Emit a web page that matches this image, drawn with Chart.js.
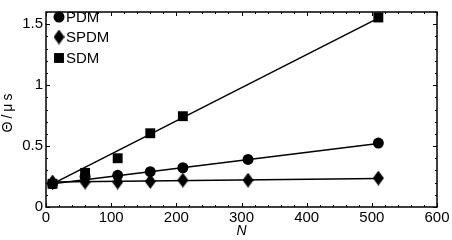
<!DOCTYPE html>
<html>
<head>
<meta charset="utf-8">
<script src="https://cdn.jsdelivr.net/npm/chart.js@4/dist/chart.umd.min.js"></script>
<style>
  html, body { margin: 0; padding: 0; background: #fff; }
  #wrap { width: 452px; height: 240px; }
</style>
</head>
<body>
<div id="wrap"><canvas id="chart" width="452" height="240"></canvas></div>
<script>
// Datos
const nValues = [10, 60, 110, 160, 210, 310, 510];
const pdmValues = [0.19, 0.25, 0.26, 0.29, 0.322, 0.39, 0.525];
const spdmValues = [0.205, 0.205, 0.205, 0.21, 0.22, 0.22, 0.237];
const sdmN = [10, 60, 110, 160, 210, 510];
const sdmValues = [0.19, 0.28, 0.40, 0.605, 0.745, 1.555];

// Rectas de ajuste (extremos)
const fitN = [10, 510];
const pdmFit = [0.19, 0.522];
const spdmFit = [0.205, 0.233];
const sdmFit = [0.19, 1.55];

const legendLabels = ['PDM', 'SPDM', 'SDM'];
const xTicks = [0, 100, 200, 300, 400, 500, 600];
const yTicks = [0, 0.5, 1, 1.5];
const yTitle = 'Θ/μs';

const FONT = '"Liberation Sans", Arial, sans-serif';

function toPoints(xs, ys) {
    return xs.map((x, i) => ({ x: x, y: ys[i] }));
}

// Marcador de rombo
function makeDiamond(w, h) {
    const c = document.createElement('canvas');
    c.width = w;
    c.height = h;
    const g = c.getContext('2d');
    g.fillStyle = '#000';
    g.beginPath();
    g.moveTo(w / 2, 0);
    g.lineTo(w, h / 2);
    g.lineTo(w / 2, h);
    g.lineTo(0, h / 2);
    g.closePath();
    g.fill();
    return c;
}
const diamond = makeDiamond(11, 15);

function fitLine(xs, ys) {
    return {
        data: toPoints(xs, ys),
        showLine: true,
        borderColor: '#000',
        borderWidth: 1.5,
        pointRadius: 0,
        order: 2
    };
}

function marks(xs, ys, style, radius) {
    return {
        data: toPoints(xs, ys),
        showLine: false,
        pointStyle: style,
        pointRadius: radius,
        pointHoverRadius: radius,
        backgroundColor: '#000',
        borderColor: '#000',
        borderWidth: 0,
        order: 1
    };
}

// Marco y marcas hacia adentro en los cuatro lados
const inwardTicks = {
    id: 'inwardTicks',
    afterDraw(chart) {
        const ctx = chart.ctx;
        const a = chart.chartArea;
        const xs = chart.scales.x;
        const ys = chart.scales.y;
        ctx.save();
        ctx.strokeStyle = '#000';
        ctx.lineWidth = 1.5;
        ctx.strokeRect(a.left, a.top, a.right - a.left, a.bottom - a.top);
        ctx.lineWidth = 1;
        for (let v = 0; v <= 600; v += 20) {
            const len = v % 100 === 0 ? 4 : 2;
            const px = Math.round(xs.getPixelForValue(v)) + 0.5;
            ctx.beginPath();
            ctx.moveTo(px, a.bottom); ctx.lineTo(px, a.bottom - len);
            ctx.moveTo(px, a.top); ctx.lineTo(px, a.top + len);
            ctx.stroke();
        }
        for (let i = 0; i <= 16; i++) {
            const v = i / 10;
            const len = i % 5 === 0 ? 4 : 2;
            const py = Math.round(ys.getPixelForValue(v)) + 0.5;
            ctx.beginPath();
            ctx.moveTo(a.left, py); ctx.lineTo(a.left + len, py);
            ctx.moveTo(a.right, py); ctx.lineTo(a.right - len, py);
            ctx.stroke();
        }
        ctx.restore();
    }
};

// Título del eje Y (con espaciado entre letras)
const yTitlePlugin = {
    id: 'yTitlePlugin',
    afterDraw(chart) {
        const ctx = chart.ctx;
        const a = chart.chartArea;
        ctx.save();
        ctx.fillStyle = '#000';
        ctx.font = '14px ' + FONT;
        ctx.letterSpacing = '3px';
        ctx.textAlign = 'center';
        ctx.textBaseline = 'middle';
        ctx.translate(8, (a.top + a.bottom) / 2 + 2);
        ctx.rotate(-Math.PI / 2);
        ctx.fillText(yTitle, 0, 0);
        ctx.restore();
    }
};

// Leyenda dentro del área
const innerLegend = {
    id: 'innerLegend',
    afterDraw(chart) {
        const ctx = chart.ctx;
        const styles = [
            { pointStyle: 'circle', radius: 5.5 },
            { pointStyle: diamond, radius: 6 },
            { pointStyle: 'rect', radius: 7 }
        ];
        const rowsY = [17, 37, 58];
        ctx.save();
        ctx.fillStyle = '#000';
        ctx.strokeStyle = '#000';
        ctx.font = '15px ' + FONT;
        ctx.textBaseline = 'middle';
        legendLabels.forEach((label, i) => {
            Chart.helpers.drawPoint(ctx, {
                pointStyle: styles[i].pointStyle,
                radius: styles[i].radius,
                rotation: 0,
                borderWidth: 0
            }, 59, rowsY[i]);
            ctx.fillText(label, 66, rowsY[i] + 1);
        });
        ctx.restore();
    }
};

new Chart(document.getElementById('chart'), {
    type: 'scatter',
    data: {
        datasets: [
            fitLine(fitN, pdmFit),
            fitLine(fitN, spdmFit),
            fitLine(fitN, sdmFit),
            marks(nValues, pdmValues, 'circle', 5.5),
            marks(nValues, spdmValues, diamond, 6),
            marks(sdmN, sdmValues, 'rect', 7)
        ]
    },
    options: {
        responsive: false,
        animation: false,
        events: [],
        layout: { padding: { top: 1, right: 15, left: 0, bottom: 0 } },
        plugins: { legend: { display: false }, tooltip: { enabled: false } },
        scales: {
            x: {
                type: 'linear',
                min: 0,
                max: 600,
                afterBuildTicks: s => { s.ticks = xTicks.map(v => ({ value: v })); },
                afterFit: s => { s.height = 33; },
                grid: { display: false, drawTicks: false },
                border: { display: false },
                ticks: {
                    color: '#000',
                    padding: 2,
                    maxRotation: 0,
                    font: { family: FONT, size: 15 }
                },
                title: {
                    display: true,
                    text: 'N',
                    color: '#000',
                    padding: 0,
                    font: { family: FONT, size: 14, style: 'italic' }
                }
            },
            y: {
                type: 'linear',
                min: 0,
                max: 1.6,
                afterBuildTicks: s => { s.ticks = yTicks.map(v => ({ value: v })); },
                afterFit: s => { s.width = 46; },
                grid: { display: false, drawTicks: false },
                border: { display: false },
                ticks: {
                    color: '#000',
                    padding: 3,
                    font: { family: FONT, size: 15 },
                    callback: v => String(v)
                },
                title: { display: false }
            }
        }
    },
    plugins: [inwardTicks, yTitlePlugin, innerLegend]
});
</script>
</body>
</html>
